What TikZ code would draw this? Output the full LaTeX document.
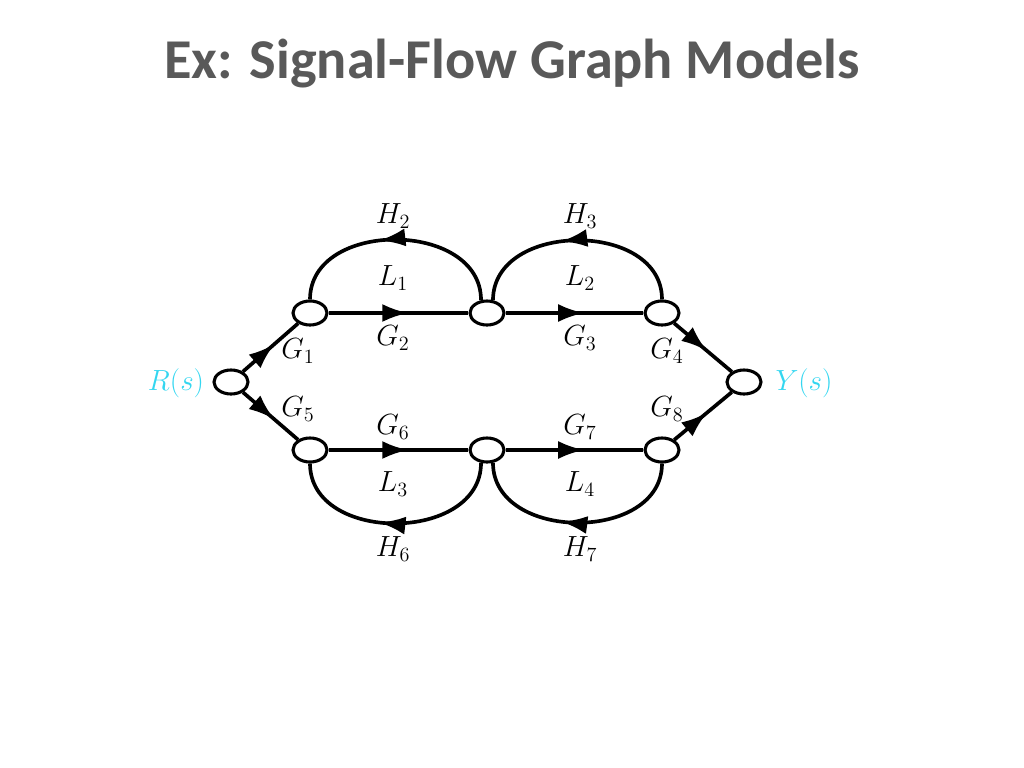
\documentclass[tikz,border=0pt]{standalone}
\usepackage{fontspec}
\usetikzlibrary{shapes.geometric,arrows.meta,decorations.markings}
\newfontfamily\titlefont{Carlito}
\definecolor{titlegray}{RGB}{89,89,89}
\definecolor{sigcyan}{RGB}{51,214,240}

\begin{document}
\begin{tikzpicture}[x=0.025cm,y=-0.025cm,
    signal/.style ={ellipse, draw, line width=2.2pt, fill=white,
      minimum width=0.85cm, minimum height=0.6cm, inner sep=0pt},
    branch/.style ={line width=2.6pt, postaction={decorate},
      decoration={markings, mark=at position 0.57 with
        {\arrow{Latex[length=0.65cm,width=0.45cm]}}}},
    gain/.style ={font=\huge},
    port/.style ={font=\huge, text=sigcyan}]
   \useasboundingbox (0,0) rectangle (1024,768);

   \node[font=\titlefont\bfseries\fontsize{40}{48}\selectfont, text=titlegray]
     (title) at (512,64) {Ex: Signal-Flow Graph Models};

   % nodes
   \node[signal] (R)  at (231,382)  {};
   \node[signal] (A)  at (310,313)  {};
   \node[signal] (B)  at (487,313)  {};
   \node[signal] (C)  at (662,313)  {};
   \node[signal] (Y)  at (744,382)  {};
   \node[signal] (D)  at (310,450)  {};
   \node[signal] (E)  at (487,450)  {};
   \node[signal] (F)  at (662,450)  {};

   % forward paths
   \draw[branch] (R) to (A);
   \draw[branch] (A) to (B);
   \draw[branch] (B) to (C);
   \draw[branch] (C) to (Y);
   \draw[branch] (R) to (D);
   \draw[branch] (D) to (E);
   \draw[branch] (E) to (F);
   \draw[branch] (F) to (Y);

   % loops
   \draw[branch] (B.115) to[out=90, in=90, looseness=1.2] (A.north);
   \draw[branch] (C.north) to[out=90, in=90, looseness=1.2] (B.65);
   \draw[branch] (E.245) to[out=-90, in=-90, looseness=1.2] (D.south);
   \draw[branch] (F.south) to[out=-90, in=-90, looseness=1.2] (E.295);

   % labels
   \node[port] (Rs) at (176,383) {$R(s)$};
   \node[port] (Ys) at (804,383) {$Y(s)$};
   \node[gain] (g1) at (298,351) {$G_1$};
   \node[gain] (g2) at (393,338) {$G_2$};
   \node[gain] (g3) at (580,338) {$G_3$};
   \node[gain] (g4) at (667,351) {$G_4$};
   \node[gain] (g5) at (298,409) {$G_5$};
   \node[gain] (g6) at (393,427) {$G_6$};
   \node[gain] (g7) at (580,427) {$G_7$};
   \node[gain] (g8) at (667,409) {$G_8$};
   \node[gain] (h2) at (393,216) {$H_2$};
   \node[gain] (h3) at (580,216) {$H_3$};
   \node[gain] (h6) at (393,549) {$H_6$};
   \node[gain] (h7) at (580,549) {$H_7$};
   \node[gain] (l1) at (393,278) {$L_1$};
   \node[gain] (l2) at (580,278) {$L_2$};
   \node[gain] (l3) at (393,484) {$L_3$};
   \node[gain] (l4) at (580,484) {$L_4$};
 \end{tikzpicture}
\end{document}
